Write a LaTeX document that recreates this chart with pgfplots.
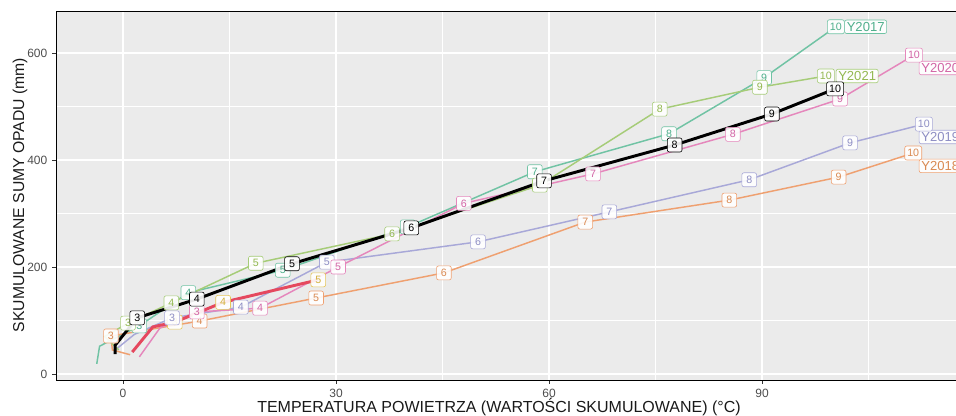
\documentclass[border=0pt]{standalone}
\usepackage{fontspec}
\setmainfont{Liberation Sans}
\usepackage{pgfplots}
\pgfplotsset{compat=1.18}

\definecolor{panelgrey}{HTML}{EBEBEB}
\definecolor{ticktext}{HTML}{4D4D4D}
\definecolor{c17}{HTML}{70C3A4}
\definecolor{t17}{HTML}{4FAF8C}
\definecolor{c18}{HTML}{EFA070}
\definecolor{t18}{HTML}{D98A52}
\definecolor{c19}{HTML}{A8A8D8}
\definecolor{t19}{HTML}{8E8EC4}
\definecolor{c20}{HTML}{E587BC}
\definecolor{t20}{HTML}{D265A6}
\definecolor{c21}{HTML}{A6CC78}
\definecolor{t21}{HTML}{93B850}
\definecolor{c22}{HTML}{E5C65A}
\definecolor{t22}{HTML}{D2B13A}
\definecolor{c22line}{HTML}{E5485E}

\pgfplotsset{
  monthlabels/.style 2 args={
    draw=none, mark=none,
    point meta=explicit symbolic,
    nodes near coords={\pgfplotspointmeta},
    every node near coord/.style={
      anchor=center, draw=#1, text=#2, fill=white, fill opacity=0.9,
      text opacity=1, rounded corners=1.5pt, line width=0.45pt,
      inner sep=1.9pt, minimum width=11pt, minimum height=10.5pt,
      font=\fontsize{8}{9}\selectfont},
  },
  yearline/.style={no markers, line width=1.1pt, #1},
}

\newcommand{\yearname}[4]{%
  \node[draw=#3, text=#4, fill=white, fill opacity=0.9, text opacity=1,
        rounded corners=1.5pt, line width=0.45pt, inner sep=1.6pt,
        font=\fontsize{9.8}{11}\selectfont] at (axis cs:#1) {#2};}

\begin{document}
\begin{tikzpicture}
\useasboundingbox (0,0) rectangle (717pt,312pt);
\begin{axis}[
  at={(42pt,27pt)}, anchor=south west,
  width=689.25pt, height=276.75pt, scale only axis,
  xmin=-9.44, xmax=120, ymin=-11.2, ymax=678.5,
  clip=false,
  axis background/.style={fill=panelgrey},
  axis line style={black, line width=0.7pt},
  xtick={0,30,60,90}, ytick={0,200,400,600},
  minor xtick={15,45,75,105}, minor ytick={100,300,500},
  grid=both,
  major grid style={white, line width=0.85pt},
  minor grid style={white, line width=0.45pt},
  tick pos=left, tick align=outside,
  major tick length=3pt, minor tick length=0pt,
  tick style={black!80, line width=0.5pt},
  ticklabel style={text=ticktext, font=\fontsize{9}{10}\selectfont},
  /pgf/number format/assume math mode=true,
  scaled ticks=false,
]
% cumulative curves for each year
\addplot[yearline=c17] coordinates {(-3.7,19) (-3.3,52) (2.3,90) (9.2,152) (22.5,194) (40.1,275) (58.0,378) (76.9,449) (90.3,554) (100.4,649)};
\addplot[yearline=c18] coordinates {(1.0,36) (-1.5,45) (-1.7,71) (10.8,99) (27.2,142) (45.2,189) (65.1,284) (85.4,325) (100.8,368) (111.3,413)};
\addplot[yearline=c19] coordinates {(-1.1,45) (1.6,74) (6.9,105) (16.6,125) (28.7,209) (50.0,247) (68.5,303) (88.2,363) (102.4,432) (112.8,467)};
\addplot[yearline=c20] coordinates {(2.3,32) (5.2,86) (10.4,116) (19.3,123) (30.3,200) (48.0,319) (66.2,374) (85.9,448) (101.0,514) (111.4,596)};
\addplot[yearline=c21] coordinates {(-0.6,45) (-2.6,70) (0.7,95) (6.8,133) (18.7,207) (37.9,262) (58.7,353) (75.6,495) (89.7,536) (99.0,557)};

% month labels
\addplot[monthlabels={c22}{t22}] coordinates {(7.3,97) [3]};
\addplot[monthlabels={c17}{t17}] coordinates {(2.3,90) [3] (9.2,152) [4] (22.5,194) [5] (40.1,275) [6] (58.0,378) [7] (76.9,449) [8] (90.3,554) [9] (100.4,649) [10]};
\addplot[monthlabels={c18}{t18}] coordinates {(-1.7,71) [3] (10.8,99) [4] (27.2,142) [5] (45.2,189) [6] (65.1,284) [7] (85.4,325) [8] (100.8,368) [9] (111.3,413) [10]};
\addplot[monthlabels={c19}{t19}] coordinates {(6.9,105) [3] (16.6,125) [4] (28.7,209) [5] (50.0,247) [6] (68.5,303) [7] (88.2,363) [8] (102.4,432) [9] (112.8,467) [10]};
\addplot[monthlabels={c20}{t20}] coordinates {(10.4,116) [3] (19.3,123) [4] (30.3,200) [5] (48.0,319) [6] (66.2,374) [7] (85.9,448) [8] (101.0,514) [9] (111.4,596) [10]};
\addplot[monthlabels={c21}{t21}] coordinates {(0.7,95) [3] (6.8,133) [4] (18.7,207) [5] (37.9,262) [6] (58.7,353) [7] (75.6,495) [8] (89.7,536) [9] (99.0,557) [10]};

% current year
\addplot[no markers, line width=2.2pt, c22line] coordinates {(1.3,41) (4.2,88) (7.3,97) (14.1,134) (27.5,176)};
\addplot[monthlabels={c22}{t22}] coordinates {(14.1,134) [4] (27.5,176) [5]};

% multi-year mean
\addplot[no markers, line width=2.2pt, black] coordinates {(-1.1,37) (-1.1,54) (2.0,105) (10.4,140) (23.8,206) (40.6,273) (59.3,361) (77.7,428) (91.4,486) (100.3,533)};
\addplot[monthlabels={black}{black}] coordinates {(2.0,105) [3] (10.4,140) [4] (23.8,206) [5] (40.6,273) [6] (59.3,361) [7] (77.7,428) [8] (91.4,486) [9] (100.3,533) [10]};

% series names
\yearname{104.6,649}{Y2017}{c17}{t17}
\yearname{103.4,557}{Y2021}{c21}{t21}
\yearname{115.1,572}{Y2020}{c20}{t20}
\yearname{115.1,443}{Y2019}{c19}{t19}
\yearname{115.1,389}{Y2018}{c18}{t18}
\end{axis}
\node[font=\fontsize{12}{13}\selectfont, text=black!90] at (374.25pt,6.5pt) {TEMPERATURA POWIETRZA (WARTOŚCI SKUMULOWANE) (°C)};
\node[font=\fontsize{11.8}{13}\selectfont, text=black!90, rotate=90] at (15pt,165.75pt) {SKUMULOWANE SUMY OPADU (mm)};
\end{tikzpicture}
\end{document}
